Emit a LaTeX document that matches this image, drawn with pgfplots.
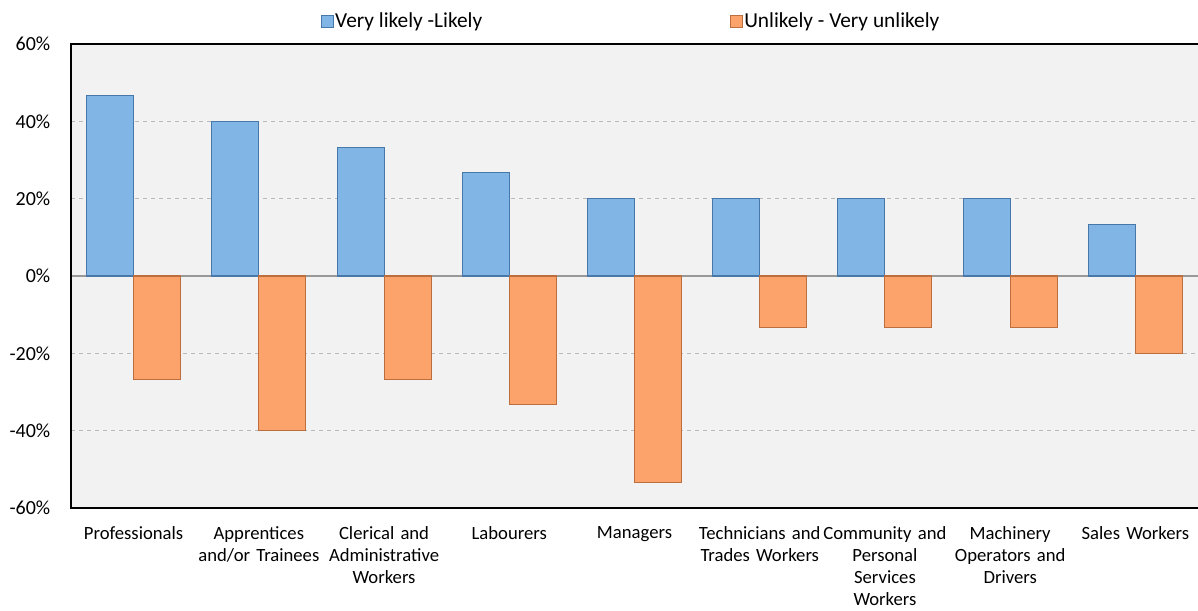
\documentclass[border=0pt]{standalone}
\usepackage{pgfplots}
\pgfplotsset{compat=1.18}
\usepackage{fontspec}
\setmainfont{Carlito}
\definecolor{plotbg}{RGB}{242,242,242}
\definecolor{bluefill}{RGB}{128,181,230}
\definecolor{blueedge}{RGB}{72,120,170}
\definecolor{orangefill}{RGB}{252,163,108}
\definecolor{orangeedge}{RGB}{188,110,62}
\begin{document}
\begin{tikzpicture}[x=1pt,y=1pt]
\path[use as bounding box] (-53.25,-76.5) rectangle (845.25,381);
\begin{axis}[
  at={(0,0)}, anchor=south west,
  scale only axis, width=845.25pt, height=348pt,
  ybar=0pt, bar width=35.25pt,
  xmin=-0.5, xmax=8.5, ymin=-60, ymax=60,
  xtick={0,...,8},
  xticklabels={Professionals,
    {Apprentices\\and/or Trainees},
    {Clerical and\\Administrative\\Workers},
    Labourers,
    Managers,
    {Technicians and\\Trades Workers},
    {Community and\\Personal\\Services\\Workers},
    {Machinery\\Operators and\\Drivers},
    Sales Workers},
  xticklabel style={align=center, text width=115pt, anchor=north, inner sep=0pt, yshift=-14pt,
    font=\fontsize{14}{16.4}\selectfont},
  ytick={-60,-40,-20,0,20,40,60},
  yticklabels={-60\%,-40\%,-20\%,0\%,20\%,40\%,60\%},
  yticklabel style={anchor=east, inner sep=0pt, xshift=-15.4pt, font=\fontsize{15}{17}\selectfont},
  axis line style={draw=none},
  major tick length=0pt,
  ymajorgrids, grid style={dashed, gray!55, line width=0.5pt},
  axis background/.style={fill=plotbg},
  clip=false,
  legend columns=2,
  legend style={draw=none, fill=none, inner sep=0pt,
    at={(0.2212,1.0496)}, anchor=west,
    font=\fontsize{16}{18}\selectfont,
    nodes={inner sep=1.5pt},
    /tikz/every even column/.append style={column sep=184pt}},
]
\draw[gray!80, line width=0.8pt] (axis cs:-0.5,0) -- (axis cs:8.5,0);
\addplot[fill=bluefill, draw=blueedge, line width=0.8pt,
  legend image code/.code={\draw[fill=bluefill, draw=blueedge, line width=0.5pt] (0pt,-4.5pt) rectangle (9pt,4.5pt);}]
  coordinates {(0,46.67) (1,40) (2,33.33) (3,26.67) (4,20) (5,20) (6,20) (7,20) (8,13.33)};
\addplot[fill=orangefill, draw=orangeedge, line width=0.8pt,
  legend image code/.code={\draw[fill=orangefill, draw=orangeedge, line width=0.5pt] (0pt,-4.5pt) rectangle (9pt,4.5pt);}]
  coordinates {(0,-26.67) (1,-40) (2,-26.67) (3,-33.33) (4,-53.33) (5,-13.33) (6,-13.33) (7,-13.33) (8,-20)};
\legend{Very likely -Likely, Unlikely - Very unlikely}
\draw[black, line width=1.5pt] (rel axis cs:1,1) -- (rel axis cs:0,1) -- (rel axis cs:0,0) -- (rel axis cs:1,0);
\end{axis}
\end{tikzpicture}
\end{document}
